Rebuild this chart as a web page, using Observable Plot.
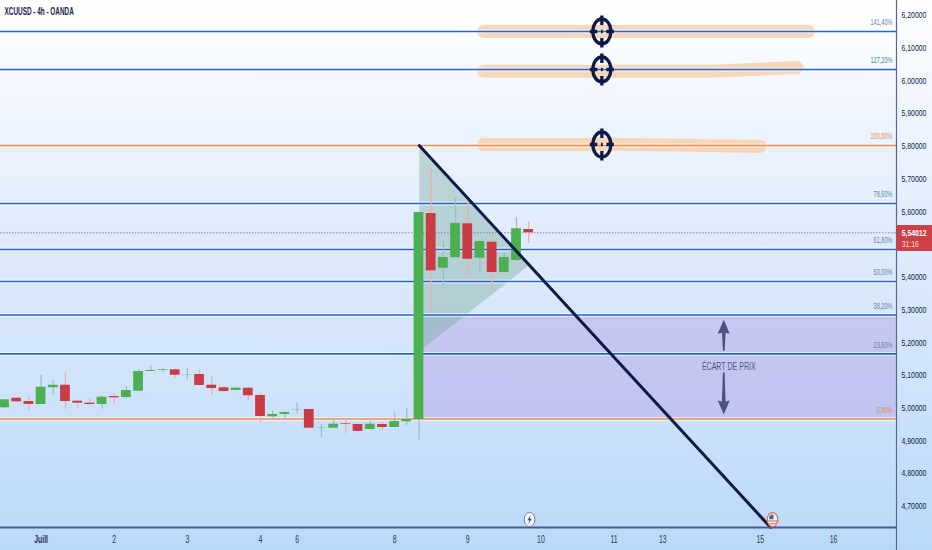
<!DOCTYPE html>
<html>
<head>
<meta charset="utf-8">
<script src="https://cdn.jsdelivr.net/npm/d3@7"></script>
<script src="https://cdn.jsdelivr.net/npm/@observablehq/plot@0.6"></script>
<style>
html,body{margin:0;padding:0;background:#fff;overflow:hidden}
</style>
</head>
<body>
<div id="chart"></div>
<script>
const opens  = [5.0014,5.0307,5.0206,5.0115,5.0625,5.0704,5.0216,5.0155,5.0115,5.0359,5.0329,5.0521,5.1123,5.1163,5.1175,5.1022,5.1031,5.0704,5.0625,5.0543,5.0613,5.0390,4.9739,4.9809,4.9944,4.9962,4.9394,4.9391,4.9525,4.9504,4.9351,4.9504,4.9412,4.9586,4.9657,5.5949,5.4279,5.4597,5.5635,5.4584,5.5073,5.4147,5.4514,5.5461];
const highs  = [5.0277,5.0307,5.0368,5.1001,5.0848,5.1092,5.0237,5.0298,5.0368,5.0442,5.0674,5.1175,5.1306,5.1205,5.1184,5.1205,5.1154,5.0992,5.0665,5.0634,5.0625,5.0472,4.9910,4.9901,5.0155,4.9962,4.9504,4.9647,4.9687,4.9525,4.9586,4.9574,4.9861,4.9983,5.5980,5.7316,5.5095,5.6400,5.6348,5.5125,5.5299,5.4737,5.5819,5.5706];
const lows   = [4.9993,5.0197,4.9932,5.0115,5.0390,4.9962,4.9993,5.0106,4.9971,5.0136,5.0289,5.0512,5.1114,5.1083,5.0918,5.0869,5.0695,5.0399,5.0491,5.0543,5.0237,4.9556,4.9696,4.9635,4.9831,4.9372,4.9107,4.9391,4.9220,4.9290,4.9342,4.9320,4.9412,4.9473,4.9015,5.2886,5.3729,5.4597,5.4047,5.4138,5.3497,5.4147,5.4493,5.5024];
const closes = [5.0258,5.0197,5.0115,5.0643,5.0704,5.0206,5.0155,5.0115,5.0338,5.0319,5.0543,5.1123,5.1154,5.1184,5.1010,5.1031,5.0695,5.0604,5.0512,5.0613,5.0381,4.9748,4.9809,4.9870,4.9953,4.9391,4.9403,4.9513,4.9504,4.9290,4.9513,4.9412,4.9595,4.9657,5.5980,5.4199,5.4606,5.5644,5.4553,5.5095,5.4147,5.4606,5.5483,5.5360];

const fibLevels = [6.1511,6.0350,5.8028,5.6256,5.4851,5.3873,5.2850,5.1659,4.9672];
const fibLabels = ["141,40%","127,20%","100,00%","78,60%","61,80%","50,00%","38,20%","23,60%","0,00%"];
const fibOrange = ["100,00%","0,00%"];

const priceTicks = [4.7,4.8,4.9,5.0,5.1,5.2,5.3,5.4,5.6,5.7,5.8,5.9,6.0,6.1,6.2];
const dayTicks  = [3,9,15,21,24,32,38,44,50,54,62,68];
const dayLabels = ["Juill","2","3","4","6","8","9","10","11","13","15","16"];

const xDomain = [-0.328,73.17];
const yDomain = [4.6357,6.2458];

const triangleX = [34.02,42.99,34.02];
const triangleY = [5.8028,5.436,5.1735];
const trendX = [34.02,62.85];
const trendY = [5.8028,4.6357];
const strokes = [
  {x:[39.3,65.96],y:[6.1511,6.1511]},
  {x:[39.3,58,65],y:[6.0300,6.0300,6.0410]},
  {x:[39.3,52,62],y:[5.8060,5.8060,5.8000]}
];
const targetX = 49;
const targetY = [6.1511,6.0350,5.8058];
const gapX = [34.02,73.17];
const gapY = [4.9672,5.2850];
const gapLabelX = 59;
const gapLabelY = 5.1276;
const arrowUpTip = 5.2703;
const arrowDownTip = 4.9809;
const axisXPos = 73.17;
const lastLabel = "5,54012";
const timerLabel = "31:16";
const lastBox = [5.479,5.5584];
const boxX = [73.2,76.2];
const labelX = 73.6;
const eventLightningX = 43.07, eventFlagX = 63, eventY = 4.66;

const candles = opens.map((o,i)=>({i,o,h:highs[i],l:lows[i],c:closes[i],up:closes[i]>=o}));
const fibs = fibLevels.map((p,i)=>({p,label:fibLabels[i],orange:fibOrange.includes(fibLabels[i])}));

const GREEN="#4caf50", RED="#c93c46", NAVY="#0d1a47", SLATE="#4b5283", BLUE="#2566c8", ORANGE="#ef8a4a";
const FONT='"Liberation Sans",sans-serif';

function ell(ctx,rx,ry){
  const k=0.5523;
  ctx.moveTo(rx,0);
  ctx.bezierCurveTo(rx,ry*k,rx*k,ry,0,ry);
  ctx.bezierCurveTo(-rx*k,ry,-rx,ry*k,-rx,0);
  ctx.bezierCurveTo(-rx,-ry*k,-rx*k,-ry,0,-ry);
  ctx.bezierCurveTo(rx*k,-ry,rx,-ry*k,rx,0);
  ctx.closePath();
}
const targetSymbol={draw(c){
  ell(c,9,12.5);
  c.moveTo(0,-16);c.lineTo(0,-6.5);
  c.moveTo(0,16);c.lineTo(0,6.5);
  c.moveTo(-12,0);c.lineTo(-4.5,0);
  c.moveTo(12,0);c.lineTo(4.5,0);
  c.moveTo(-0.9,0);c.lineTo(0.9,0);
}};
const arrowUp={draw(c){
  c.moveTo(0,0);c.lineTo(6,14);c.lineTo(1.8,13);c.lineTo(0.9,31);c.lineTo(-0.9,31);c.lineTo(-1.8,13);c.lineTo(-6,14);c.closePath();
}};
const arrowDown={draw(c){
  c.moveTo(0,0);c.lineTo(6,-14);c.lineTo(1.8,-13);c.lineTo(0.9,-42);c.lineTo(-0.9,-42);c.lineTo(-1.8,-13);c.lineTo(-6,-14);c.closePath();
}};
const badge={draw(c){ell(c,5.3,7);}};
const bolt={draw(c){
  c.moveTo(1,-4.5);c.lineTo(-2,0.8);c.lineTo(-0.2,0.8);c.lineTo(-1,4.5);c.lineTo(2,-0.8);c.lineTo(0.2,-0.8);c.closePath();
}};
const flagStripes={draw(c){
  c.moveTo(-4.5,1);c.lineTo(4.5,1);c.lineTo(4.5,2);c.lineTo(-4.5,2);c.closePath();
  c.moveTo(-3.5,3.8);c.lineTo(3.5,3.8);c.lineTo(3,4.8);c.lineTo(-3,4.8);c.closePath();
}};
const flagCanton={draw(c){
  c.moveTo(-3.5,-0.2);c.lineTo(-3,-3.5);c.lineTo(-1,-5);c.lineTo(1,-5);c.lineTo(1,-0.2);c.closePath();
}};

const plot = Plot.plot({
  width:932,height:550,
  marginTop:0,marginLeft:0,marginRight:36,marginBottom:23,
  style:{background:"linear-gradient(180deg,#ffffff 0%,#f1f6fe 18%,#deebfc 45%,#cfe3fb 70%,#bad9f9 100%)",fontFamily:FONT,fontSize:"10px",color:NAVY,display:"block"},
  x:{domain:xDomain,axis:null},
  y:{domain:yDomain,axis:null},
  marks:[
    Plot.rect([0],{x1:gapX[0],x2:gapX[1],y1:gapY[0],y2:gapY[1],fill:"#b6a8e8",fillOpacity:0.5}),
    Plot.line(triangleX.map((x,i)=>({x,y:triangleY[i]})).concat([{x:triangleX[0],y:triangleY[0]}]),{x:"x",y:"y",stroke:"none",fill:"#7cab9f",fillOpacity:0.42}),
    ...strokes.map(s=>Plot.line(s.x.map((x,i)=>({x,y:s.y[i]})),{x:"x",y:"y",stroke:"#f8d6ba",strokeWidth:13,strokeLinecap:"round",strokeLinejoin:"round"})),
    Plot.ruleY(fibs,{y:"p",x1:xDomain[0],x2:xDomain[1],stroke:"#ffffff",strokeOpacity:0.55,strokeWidth:4}),
    Plot.ruleY(fibs,{y:"p",x1:xDomain[0],x2:xDomain[1],stroke:d=>d.orange?ORANGE:BLUE,strokeWidth:1.7}),
    Plot.ruleY([closes[closes.length-1]],{x1:xDomain[0],x2:xDomain[1],stroke:"#7b86a8",strokeWidth:1,strokeDasharray:"1.5,1.5"}),
    Plot.ruleX(candles,{x:"i",y1:"l",y2:"h",stroke:d=>d.up?"#9fbcc0":"#ecb0a6",strokeWidth:1.3}),
    Plot.rect(candles,{x1:d=>d.i-0.4,x2:d=>d.i+0.4,y1:"o",y2:"c",fill:d=>d.up?GREEN:RED}),
    Plot.line(trendX.map((x,i)=>({x,y:trendY[i]})),{x:"x",y:"y",stroke:NAVY,strokeWidth:3}),
    Plot.dot(targetY,{x:targetX,y:d=>d,symbol:targetSymbol,stroke:NAVY,fill:"none",strokeWidth:3.3}),
    Plot.dot([arrowUpTip],{x:gapLabelX,y:d=>d,symbol:arrowUp,fill:SLATE,stroke:"none"}),
    Plot.dot([arrowDownTip],{x:gapLabelX,y:d=>d,symbol:arrowDown,fill:SLATE,stroke:"none"}),
    Plot.text(["ÉCART DE PRIX"],{x:gapLabelX,y:gapLabelY,dx:5,text:d=>d,fill:"#4f5888",fontSize:11,fontFamily:FONT}),
    Plot.text(fibs,{x:xDomain[1],y:"p",text:"label",textAnchor:"end",dx:-4,dy:-9,fill:d=>d.orange?"#e0884c":"#5f7fab",fontSize:9,fontFamily:FONT}),
    Plot.ruleX([axisXPos],{y1:yDomain[1]+0.05,y2:yDomain[0]-0.08,stroke:"#5a6796",strokeWidth:1.2}),
    Plot.ruleY([yDomain[0]],{x1:xDomain[0],x2:axisXPos,stroke:"#4f5a8e",strokeWidth:2}),
    Plot.axisY({anchor:"right",ticks:priceTicks,tickSize:0,tickPadding:5,tickFormat:d=>d.toFixed(5).replace(".",","),label:null,fontSize:8.6,fill:NAVY,fontFamily:FONT}),
    Plot.axisX({anchor:"bottom",ticks:dayTicks.slice(1),tickSize:0,tickPadding:8,label:null,tickFormat:d=>dayLabels[dayTicks.indexOf(d)],fontSize:10,fill:"#27325f",fontFamily:FONT}),
    Plot.axisX({anchor:"bottom",ticks:dayTicks.slice(0,1),tickSize:0,tickPadding:8,label:null,tickFormat:d=>dayLabels[dayTicks.indexOf(d)],fontSize:10,fontWeight:"bold",fill:"#27325f",fontFamily:FONT}),
    Plot.rect([0],{x1:boxX[0],x2:boxX[1],y1:lastBox[0],y2:lastBox[1],fill:"#cc4147"}),
    Plot.text([lastLabel],{x:labelX,y:closes[closes.length-1],text:d=>d,textAnchor:"start",fill:"#fff",fontSize:8.6,fontFamily:FONT,fontWeight:"bold"}),
    Plot.text([timerLabel],{x:labelX,y:5.5021,text:d=>d,textAnchor:"start",fill:"#ffd9c4",fontSize:8.6,fontFamily:FONT}),
    Plot.dot([0],{x:eventLightningX,y:eventY,symbol:badge,fill:"#f4f8ff",stroke:"#6a73a0",strokeWidth:1}),
    Plot.dot([0],{x:eventLightningX,y:eventY,symbol:bolt,fill:"#3a4474",stroke:"none"}),
    Plot.dot([0],{x:eventFlagX,y:eventY,symbol:badge,fill:"#f4f8ff",stroke:"#e7733f",strokeWidth:1.2}),
    Plot.dot([0],{x:eventFlagX,y:eventY,symbol:flagCanton,fill:"#3c6f9c",stroke:"none"}),
    Plot.dot([0],{x:eventFlagX,y:eventY,symbol:flagStripes,fill:"#d9534a",stroke:"none"}),
    Plot.text(["XCUUSD - 4h - OANDA"],{frameAnchor:"top-left",dx:4,dy:7,fontSize:10,fontWeight:"bold",fill:"#1a2450",fontFamily:FONT})
  ]
});
document.getElementById("chart").appendChild(plot);
// The reference's lettering is condensed; no narrow face is installed, so condense the real text.
plot.querySelectorAll("text").forEach(t=>{
  const s=t.textContent;
  const f = fibLabels.includes(s) ? 0.62
          : s.startsWith("ÉCART") ? 0.64
          : s.startsWith("XCUUSD") ? 0.64
          : /^\d,\d{5}$/.test(s) || s===timerLabel ? 0.8
          : 0.69;
  t.setAttribute("textLength",(t.getComputedTextLength()*f).toFixed(2));
  t.setAttribute("lengthAdjust","spacingAndGlyphs");
});
</script>
</body>
</html>
